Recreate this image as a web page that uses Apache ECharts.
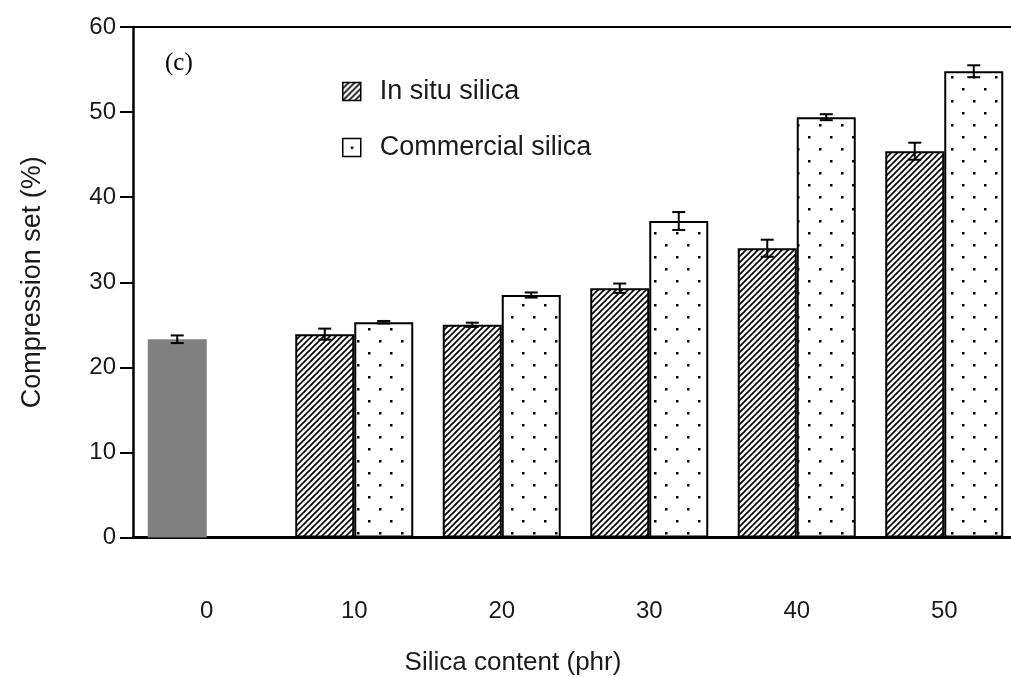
<!DOCTYPE html>
<html>
<head>
<meta charset="utf-8">
<script src="https://cdn.jsdelivr.net/npm/echarts@6/dist/echarts.min.js"></script>
<style>
html,body{margin:0;padding:0;background:#fff;}
#chart{width:1011px;height:677px;}
</style>
</head>
<body>
<div id="chart"></div>
<script>
// ---- data ----
const categories = ['0', '10', '20', '30', '40', '50'];
const inSituValues = [23.3, 23.9, 25.0, 29.3, 34.0, 45.4];
const inSituErrors = [0.45, 0.65, 0.25, 0.55, 1.0, 1.0];
const commercialValues = [null, 25.3, 28.5, 37.2, 49.4, 54.8];
const commercialErrors = [null, 0.15, 0.3, 1.05, 0.35, 0.7];
const yTicks = [0, 10, 20, 30, 40, 50, 60];

// ---- patterns ----
function hatchTile() {
  const c = document.createElement('canvas');
  c.width = 6; c.height = 6;
  const g = c.getContext('2d');
  g.fillStyle = '#fff'; g.fillRect(0, 0, 6, 6);
  g.strokeStyle = '#000'; g.lineWidth = 1.6;
  g.beginPath();
  g.moveTo(-1, 7); g.lineTo(7, -1);
  g.moveTo(-4, 4); g.lineTo(4, -4);
  g.moveTo(2, 10); g.lineTo(10, 2);
  g.stroke();
  return c;
}
function dotTile(w, h, pts) {
  const c = document.createElement('canvas');
  c.width = w; c.height = h;
  const g = c.getContext('2d');
  g.fillStyle = '#fff'; g.fillRect(0, 0, w, h);
  g.fillStyle = '#000';
  pts.forEach(p => g.fillRect(p[0], p[1], 2.5, 2.5));
  return c;
}
const hatchPattern = { image: hatchTile(), repeat: 'repeat' };
const dotPattern = { image: dotTile(22, 24, [[5, 4], [16, 16]]), repeat: 'repeat' };
const legendDotPattern = { image: dotTile(18, 18, [[8, 8]]), repeat: 'repeat' };

const BAR_W = 59;

const chart = echarts.init(document.getElementById('chart'), null, { renderer: 'canvas' });

function errorSeries(name, values, errors, side) {
  const data = values.map((v, i) => (v == null ? null : [i, v, errors[i]])).filter(d => d);
  return {
    type: 'custom',
    name: name + ' err',
    z: 10,
    silent: true,
    data: data,
    encode: { x: 0, y: 1 },
    renderItem: function (params, api) {
      const i = api.value(0), v = api.value(1), e = api.value(2);
      const top = api.coord([i, v + e]);
      const bot = api.coord([i, v - e]);
      const x = top[0] + side * BAR_W / 2;
      const cap = 6.5;
      const st = { stroke: '#000', lineWidth: 2 };
      return {
        type: 'group',
        children: [
          { type: 'line', shape: { x1: x, y1: top[1], x2: x, y2: bot[1] }, style: st },
          { type: 'line', shape: { x1: x - cap, y1: top[1], x2: x + cap, y2: top[1] }, style: st },
          { type: 'line', shape: { x1: x - cap, y1: bot[1], x2: x + cap, y2: bot[1] }, style: st }
        ]
      };
    }
  };
}

const textColor = '#1a1a1a';
const fontFam = '"Liberation Sans", Arial, sans-serif';

const option = {
  animation: false,
  backgroundColor: '#fff',
  grid: { left: 133, top: 27, width: 885, bottom: 139.5, containLabel: false, outerBoundsMode: 'none' },
  title: {
    text: '(c)',
    left: 160, top: 46,
    textStyle: { fontFamily: '"Liberation Serif", "Times New Roman", serif', fontSize: 25, fontWeight: 'normal', color: '#000' }
  },
  legend: {
    orient: 'vertical',
    left: 337, top: 73,
    itemWidth: 18, itemHeight: 18,
    itemGap: 29,
    icon: 'rect',
    textStyle: { fontFamily: fontFam, fontSize: 27, color: textColor, padding: [0, 0, 0, 14] },
    data: [
      { name: 'In situ silica', itemStyle: { color: hatchPattern, borderColor: '#000', borderWidth: 1.5 } },
      { name: 'Commercial silica', itemStyle: { color: legendDotPattern, borderColor: '#000', borderWidth: 1.5 } }
    ]
  },
  xAxis: [
    {
      type: 'category',
      data: categories,
      position: 'bottom',
      axisLine: { show: true, lineStyle: { color: '#000', width: 3 } },
      axisTick: { show: false },
      axisLabel: { margin: 62, fontFamily: fontFam, fontSize: 24, color: textColor },
      name: 'Silica content (phr)',
      nameLocation: 'middle',
      nameGap: 112,
      nameTextStyle: { fontFamily: fontFam, fontSize: 26, color: textColor, padding: [0, 125, 0, 0] }
    },
    {
      type: 'category',
      data: categories,
      position: 'top',
      axisLine: { show: true, lineStyle: { color: '#000', width: 2 } },
      axisTick: { show: false },
      axisLabel: { show: false }
    }
  ],
  yAxis: {
    type: 'value',
    min: yTicks[0], max: yTicks[yTicks.length - 1], interval: 10,
    axisLine: { show: true, lineStyle: { color: '#000', width: 2.5 } },
    axisTick: { show: true, length: 13, lineStyle: { color: '#000', width: 2 } },
    splitLine: { show: false },
    axisLabel: { margin: 17, fontFamily: fontFam, fontSize: 24, color: textColor },
    name: 'Compression set (%)',
    nameLocation: 'middle',
    nameGap: 87,
    nameTextStyle: { fontFamily: fontFam, fontSize: 27, color: textColor }
  },
  series: [
    {
      type: 'bar',
      name: 'In situ silica',
      barWidth: BAR_W,
      barGap: '0%',
      itemStyle: { color: hatchPattern, borderColor: '#000', borderWidth: 2 },
      data: inSituValues.map((v, i) => i === 0
        ? { value: v, itemStyle: { color: '#808080', borderWidth: 0 } }
        : v)
    },
    {
      type: 'bar',
      name: 'Commercial silica',
      barWidth: BAR_W,
      barGap: '0%',
      itemStyle: { color: dotPattern, borderColor: '#000', borderWidth: 2 },
      data: commercialValues
    },
    errorSeries('In situ silica', inSituValues, inSituErrors, -1),
    errorSeries('Commercial silica', commercialValues, commercialErrors, 1)
  ]
};
chart.setOption(option);
</script>
</body>
</html>
